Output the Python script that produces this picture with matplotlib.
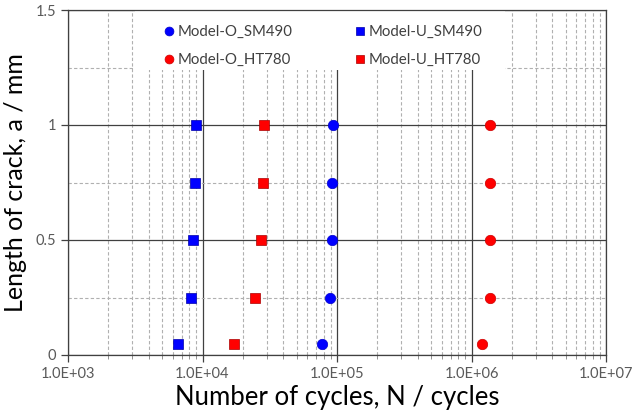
import matplotlib.pyplot as plt
from matplotlib.patches import Rectangle
from matplotlib.ticker import LogLocator, FixedLocator, NullFormatter

plt.rcParams['font.family'] = ['Lato', 'DejaVu Sans']

# crack length a (mm)
a = [1.0, 0.75, 0.5, 0.25, 0.05]

# number of cycles N for each model
n_o_sm490 = [93300, 91800, 91800, 89100, 77800]
n_u_sm490 = [8950, 8790, 8540, 8170, 6610]
n_o_ht780 = [1380000, 1380000, 1380000, 1370000, 1200000]
n_u_ht780 = [28800, 28200, 27200, 24700, 17100]

xticks = [1e3, 1e4, 1e5, 1e6, 1e7]
xlabels = ['1.0E+03', '1.0E+04', '1.0E+05', '1.0E+06', '1.0E+07']
yticks = [0, 0.5, 1, 1.5]
ylabels = ['0', '0.5', '1', '1.5']

W, H = 632, 412
L, R, T, B = 68, 606, 10, 355

def ax_frac(px, py):
    return (px - L) / (R - L), (B - py) / (B - T)

fig = plt.figure(figsize=(6.32, 4.12), dpi=100)
ax = fig.add_axes([L/W, 1-B/H, (R-L)/W, (B-T)/H])

ax.set_xscale('log')
ax.set_xlim(1e3, 1e7)
ax.set_ylim(0, 1.5)

ax.xaxis.set_major_locator(FixedLocator(xticks))
ax.set_xticklabels(xlabels)
ax.xaxis.set_minor_locator(LogLocator(base=10, subs=range(2, 10)))
ax.xaxis.set_minor_formatter(NullFormatter())
ax.set_yticks(yticks)
ax.set_yticklabels(ylabels)
ax.yaxis.set_minor_locator(FixedLocator([0.25, 0.75, 1.25]))

ax.grid(which='major', color='#404040', lw=0.9, ls='-')
ax.grid(which='minor', color='#b0b0b0', lw=0.8, ls=(0, (3, 2)))
ax.set_axisbelow(True)

ax.tick_params(which='major', direction='out', length=5, color='#404040',
               labelsize=10.5, labelcolor='#595959', width=0.9)
ax.tick_params(which='minor', direction='out', length=3, color='#808080', width=0.6)
ax.tick_params(axis='y', which='minor', length=0)
for s in ax.spines.values():
    s.set_color('#404040')
    s.set_linewidth(0.9)

# white legend area hiding the grid
x0, y0 = ax_frac(135, 70)
x1, y1 = ax_frac(505, 11)
ax.add_patch(Rectangle((x0, y0), x1 - x0, y1 - y0, transform=ax.transAxes,
                       facecolor='white', edgecolor='none', zorder=1.5))

ms = 7.5
ax.plot(n_o_sm490, a, 'o', color='#0000ff', mec='#0000cc', mew=0.5, ms=ms, label='Model-O_SM490', zorder=3)
ax.plot(n_o_ht780, a, 'o', color='#ff0000', mec='#cc0000', mew=0.5, ms=ms, label='Model-O_HT780', zorder=3)
ax.plot(n_u_sm490, a, 's', color='#0000ff', mec='#0000aa', mew=0.5, ms=ms-0.5, label='Model-U_SM490', zorder=3)
ax.plot(n_u_ht780, a, 's', color='#ff0000', mec='#aa0000', mew=0.5, ms=ms-0.5, label='Model-U_HT780', zorder=3)

lx, ly = ax_frac(161, 25)
leg = ax.legend(ncol=2, loc='upper left', bbox_to_anchor=(lx, ly),
                frameon=False, fontsize=10.8, handletextpad=0.1,
                columnspacing=4.0, labelspacing=0.95, handlelength=1.0,
                borderpad=0, borderaxespad=0, markerscale=0.85)
for t in leg.get_texts():
    t.set_color('#404040')

ax.set_xlabel('Number of cycles, N / cycles', fontsize=18.5, color='black', labelpad=3)
ax.set_ylabel('Length of crack, a / mm', fontsize=18, color='black', labelpad=6)

fig.savefig('out.png', dpi=100)
